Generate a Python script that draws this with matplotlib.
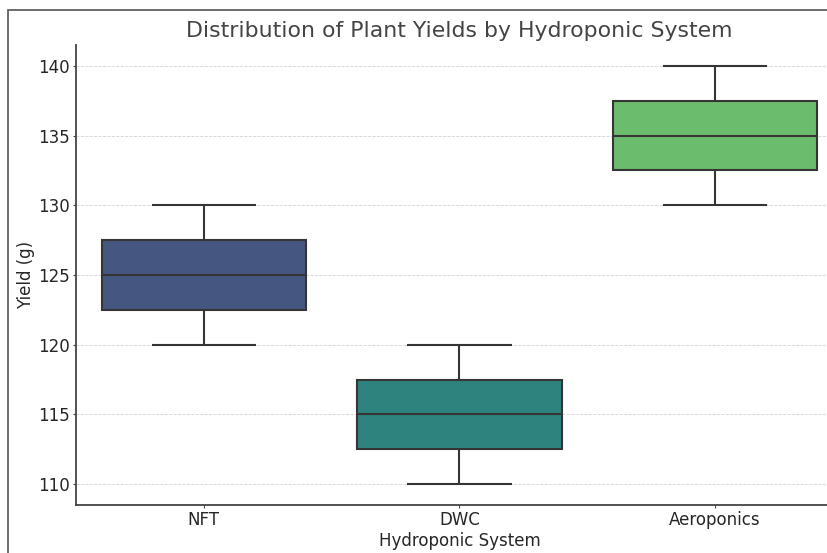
import matplotlib
matplotlib.use("Agg")
import matplotlib.pyplot as plt
import matplotlib.patches as patches
import pandas as pd
import seaborn as sns

# yields per system (g)
systems = ["NFT", "DWC", "Aeroponics"]
nft_yield = [120, 125, 130]
dwc_yield = [110, 115, 120]
aero_yield = [130, 135, 140]

df = pd.DataFrame({
	"Hydroponic System": ["NFT"] * len(nft_yield) + ["DWC"] * len(dwc_yield) + ["Aeroponics"] * len(aero_yield),
	"Yield (g)": nft_yield + dwc_yield + aero_yield,
})

text_col = "#262626"
plt.rcParams["text.color"] = text_col
plt.rcParams["axes.labelcolor"] = text_col
plt.rcParams["xtick.color"] = text_col
plt.rcParams["ytick.color"] = text_col

fig = plt.figure(figsize=(8.27, 5.53), dpi=100)
ax = fig.add_axes([76 / 827, 48 / 553, 767 / 827, 460 / 553])

# frame of the (cropped) original figure
fig.patches.append(patches.Rectangle(
	(8 / 827, -0.2), 1.2, 1.2 - 10 / 553,
	transform=fig.transFigure, fill=False, edgecolor="#555555", linewidth=1.2,
))

sns.boxplot(
	data=df, x="Hydroponic System", y="Yield (g)", hue="Hydroponic System",
	order=systems, palette="viridis", legend=False, ax=ax, linewidth=1.5,
)
ax.set_xlim(-0.5, 2.5)
ax.set_ylim(108.5, 141.5)
ax.grid(axis="y", linestyle="--", color="#d3d3d3", linewidth=0.6)
ax.set_axisbelow(True)
for s in ["top", "right"]:
	ax.spines[s].set_visible(False)
for s in ["left", "bottom"]:
	ax.spines[s].set_color("#444444")
	ax.spines[s].set_linewidth(1.3)
ax.tick_params(labelsize=12, length=2.5, pad=2, color="#444444")
ax.set_title("Distribution of Plant Yields by Hydroponic System", fontsize=15.8, color="#444444", pad=6)
ax.set_xlabel("Hydroponic System", fontsize=12, labelpad=2)
ax.set_ylabel("Yield (g)", fontsize=12, labelpad=2)

fig.savefig("out.png", dpi=100)
